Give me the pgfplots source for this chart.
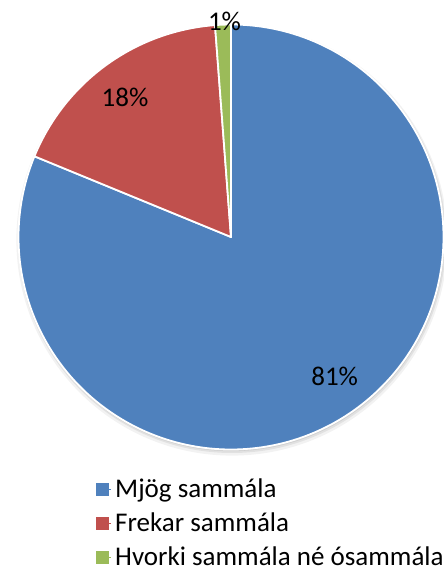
\documentclass[border=0pt]{standalone}
\usepackage{pgfplots}
\usepackage{pgfplotstable}
\pgfplotsset{compat=1.18}
\usepackage{fontspec}
\setmainfont{Carlito}

\definecolor{pieblue}{HTML}{4F81BD}
\definecolor{piered}{HTML}{C0504D}
\definecolor{piegreen}{HTML}{9BBB59}

% share of answers, in percent
\pgfplotstableread[col sep=comma]{
name,value
Mjög sammála,81.2
Frekar sammála,17.6
Hvorki sammála né ósammála,1.2
}\piedata

\begin{document}
\begin{tikzpicture}
\pgfplotstablegetelem{0}{value}\of\piedata \edef\vA{\pgfplotsretval}
\pgfplotstablegetelem{1}{value}\of\piedata \edef\vB{\pgfplotsretval}
\pgfplotstablegetelem{2}{value}\of\piedata \edef\vC{\pgfplotsretval}
% slices run clockwise from 12 o'clock
\pgfmathsetmacro\aA{90-3.6*\vA}
\pgfmathsetmacro\aB{\aA-3.6*\vB}
\pgfmathsetmacro\aC{\aB-3.6*\vC}
\def\R{106.25pt}
\begin{axis}[
    hide axis,
    scale only axis,
    width=222pt, height=285pt,
    xmin=0, xmax=444,
    ymin=0, ymax=570,
    clip=false,
    font=\fontsize{13.5}{16}\selectfont,
    legend cell align=left,
    legend style={
        at={(axis cs:96,96)}, anchor=north west,
        draw=none, fill=none, inner sep=0pt,
        row sep=2.2pt,
        font=\fontsize{13.5}{16}\selectfont,
    },
    legend image code/.code={\fill[#1] (0pt,-3pt) rectangle (6pt,3pt); \path (0pt,0pt) -- (7pt,0pt);},
]
\addlegendimage{pieblue}
\addlegendentry{Mjög sammála}
\addlegendimage{piered}
\addlegendentry{Frekar sammála}
\addlegendimage{piegreen}
\addlegendentry{Hvorki sammála né ósammála}

% soft shadow
\fill[black, opacity=0.05] (axis cs:232,330) circle[radius=107.8pt];
\fill[black, opacity=0.07] (axis cs:232,331) circle[radius=107pt];
\fill[black, opacity=0.08] (axis cs:231.5,332) circle[radius=106.6pt];

\fill[pieblue, draw=white, line width=0.9pt, line join=round]
    (axis cs:231,333) -- ++(90:\R) arc[start angle=90, end angle=\aA, radius=\R] -- cycle;
\fill[piered, draw=white, line width=0.9pt, line join=round]
    (axis cs:231,333) -- ++(\aA:\R) arc[start angle=\aA, end angle=\aB, radius=\R] -- cycle;
\fill[piegreen, draw=white, line width=0.9pt, line join=round]
    (axis cs:231,333) -- ++(\aB:\R) arc[start angle=\aB, end angle=\aC, radius=\R] -- cycle;

\node at (axis cs:334.7,194) {81\%};
\node at (axis cs:125,473) {18\%};
\node at (axis cs:224.5,548.5) {1\%};
\end{axis}
\pgfresetboundingbox
\path[use as bounding box] (0,0) rectangle (222pt,285pt);
\end{tikzpicture}
\end{document}
